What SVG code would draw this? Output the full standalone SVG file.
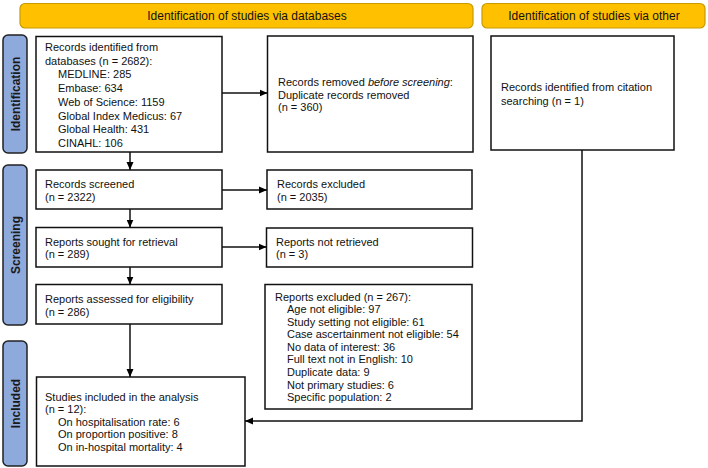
<svg xmlns="http://www.w3.org/2000/svg" width="708" height="468" viewBox="0 0 708 468">
<defs>
<marker id="ah" viewBox="0 0 8 8" refX="8" refY="4" markerWidth="8" markerHeight="8" markerUnits="userSpaceOnUse" orient="auto">
<path d="M0,0.5 L8,4 L0,7.5 Z" fill="#000"/>
</marker>
<style>
.hdr{fill:#FFC000;stroke:#C99A00;stroke-width:1.2}
.ht{font-family:"Liberation Sans",Arial,sans-serif;font-size:12px;fill:#111;text-anchor:middle}
.side{fill:#8EA9DB;stroke:#222;stroke-width:1.5}
.st{font-family:"Liberation Sans",Arial,sans-serif;font-size:12px;font-weight:bold;fill:#1a1a1a;text-anchor:middle}
.box{fill:#fff;stroke:#111;stroke-width:1.5}
.t{font-family:"Liberation Sans",Arial,sans-serif;font-size:11px;fill:#111}
.ln{fill:none;stroke:#111;stroke-width:1.5}
</style>
</defs>
<rect width="708" height="468" fill="#fff"/>

<g id="header-databases">
<rect class="hdr" x="20" y="3.5" width="453" height="24.5" rx="5"/>
<text class="ht" x="247" y="20">Identification of studies via databases</text>
</g>
<g id="header-other">
<rect class="hdr" x="482" y="3.5" width="223" height="24.5" rx="5"/>
<text class="ht" x="594" y="20">Identification of studies via other</text>
</g>

<g id="side-identification">
<rect class="side" x="3" y="35" width="24" height="118" rx="5"/>
<text class="st" transform="translate(19.5,94) rotate(-90)">Identification</text>
</g>
<g id="side-screening">
<rect class="side" x="3" y="165" width="24" height="160" rx="5"/>
<text class="st" transform="translate(19.5,245) rotate(-90)">Screening</text>
</g>
<g id="side-included">
<rect class="side" x="3" y="341" width="24" height="125" rx="5"/>
<text class="st" transform="translate(19.5,403.5) rotate(-90)">Included</text>
</g>

<g id="records-identified">
<rect class="box" x="36" y="36.5" width="186" height="115.5"/>
<text class="t" x="45" y="51">Records identified from</text>
<text class="t" x="45" y="64.7">databases (n = 2682):</text>
<text class="t" x="58" y="78.4">MEDLINE: 285</text>
<text class="t" x="58" y="92.1">Embase: 634</text>
<text class="t" x="58" y="105.8">Web of Science: 1159</text>
<text class="t" x="58" y="119.5">Global Index Medicus: 67</text>
<text class="t" x="58" y="133.2">Global Health: 431</text>
<text class="t" x="58" y="146.9">CINAHL: 106</text>
</g>
<g id="records-removed">
<rect class="box" x="267.5" y="36" width="205.5" height="116"/>
<text class="t" x="278" y="86">Records removed <tspan font-style="italic">before screening</tspan>:</text>
<text class="t" x="278" y="98.7">Duplicate records removed</text>
<text class="t" x="278" y="111.4">(n = 360)</text>
</g>
<g id="citation">
<rect class="box" x="491" y="36" width="183" height="114"/>
<text class="t" x="501" y="91">Records identified from citation</text>
<text class="t" x="501" y="105">searching (n = 1)</text>
</g>
<g id="records-screened">
<rect class="box" x="36" y="170" width="186" height="39"/>
<text class="t" x="45" y="188">Records screened</text>
<text class="t" x="45" y="200.5">(n = 2322)</text>
</g>
<g id="records-excluded">
<rect class="box" x="267" y="170" width="205" height="39"/>
<text class="t" x="277" y="188">Records excluded</text>
<text class="t" x="277" y="200.5">(n = 2035)</text>
</g>
<g id="reports-sought">
<rect class="box" x="36" y="227.5" width="186" height="39.5"/>
<text class="t" x="45" y="245.5">Reports sought for retrieval</text>
<text class="t" x="45" y="258">(n = 289)</text>
</g>
<g id="reports-not-retrieved">
<rect class="box" x="266.5" y="228" width="206" height="39"/>
<text class="t" x="276" y="245.5">Reports not retrieved</text>
<text class="t" x="276" y="258">(n = 3)</text>
</g>
<g id="reports-assessed">
<rect class="box" x="36" y="284.5" width="186" height="39.5"/>
<text class="t" x="45" y="303">Reports assessed for eligibility</text>
<text class="t" x="45" y="315.5">(n = 286)</text>
</g>
<g id="reports-excluded">
<rect class="box" x="265" y="284.5" width="207" height="124.5"/>
<text class="t" x="275" y="300.5">Reports excluded (n = 267):</text>
<text class="t" x="287" y="313">Age not eligible: 97</text>
<text class="t" x="287" y="325.6">Study setting not eligible: 61</text>
<text class="t" x="287" y="338.2">Case ascertainment not eligible: 54</text>
<text class="t" x="287" y="350.8">No data of interest: 36</text>
<text class="t" x="287" y="363.4">Full text not in English: 10</text>
<text class="t" x="287" y="376">Duplicate data: 9</text>
<text class="t" x="287" y="388.6">Not primary studies: 6</text>
<text class="t" x="287" y="401.2">Specific population: 2</text>
</g>
<g id="studies-included">
<rect class="box" x="36.5" y="377" width="208.5" height="89"/>
<text class="t" x="45" y="400.5">Studies included in the analysis</text>
<text class="t" x="45" y="413">(n = 12):</text>
<text class="t" x="58" y="425.5">On hospitalisation rate: 6</text>
<text class="t" x="58" y="438">On proportion positive: 8</text>
<text class="t" x="58" y="450.5">On in-hospital mortality: 4</text>
</g>

<g id="connectors">
<line class="ln" x1="222" y1="93" x2="267.5" y2="93" marker-end="url(#ah)"/>
<line class="ln" x1="130" y1="152" x2="130" y2="170" marker-end="url(#ah)"/>
<line class="ln" x1="222" y1="190" x2="267" y2="190" marker-end="url(#ah)"/>
<line class="ln" x1="130" y1="209" x2="130" y2="227.5" marker-end="url(#ah)"/>
<line class="ln" x1="222" y1="247" x2="266.5" y2="247" marker-end="url(#ah)"/>
<line class="ln" x1="130" y1="267" x2="130" y2="284.5" marker-end="url(#ah)"/>
<line class="ln" x1="130" y1="324" x2="130" y2="377" marker-end="url(#ah)"/>
<polyline class="ln" points="582,150 582,421 245,421" marker-end="url(#ah)"/>
</g>
</svg>
